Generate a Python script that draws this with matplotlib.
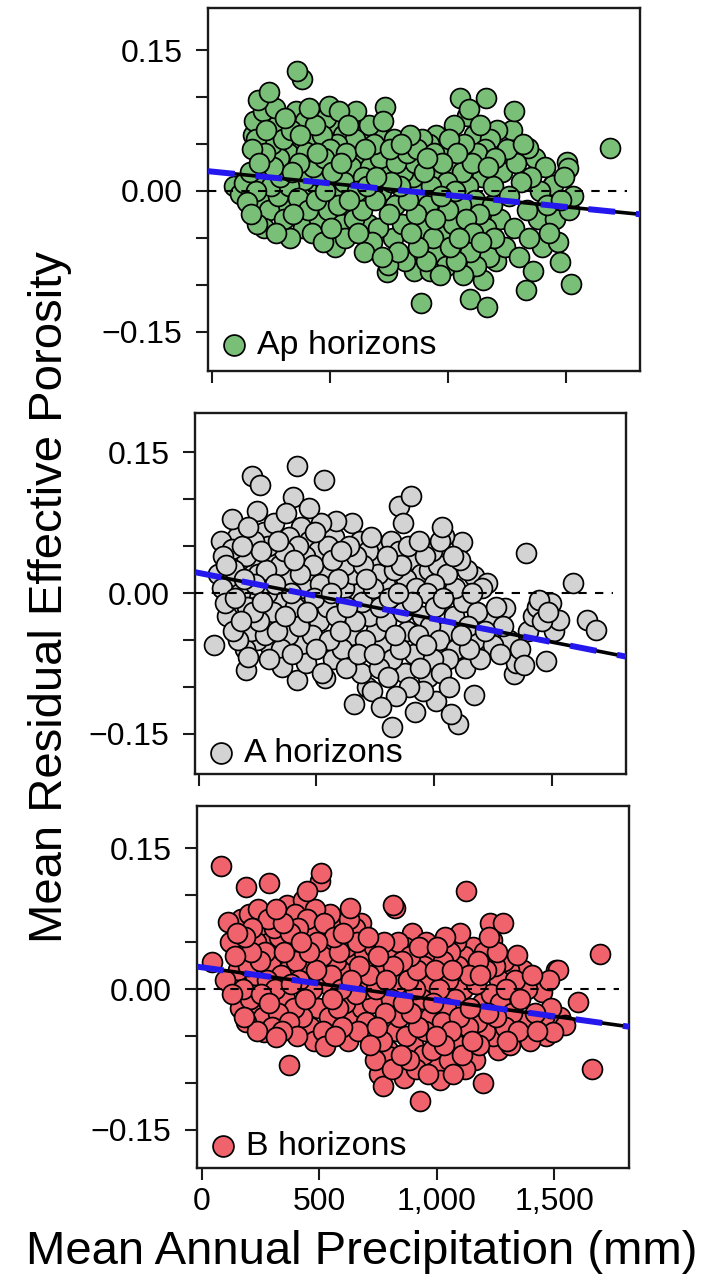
import matplotlib
matplotlib.use("Agg")
import matplotlib.pyplot as plt

plt.rcParams["font.family"] = ["Liberation Sans", "DejaVu Sans"]

# ---------------- data ----------------
ap_x = [92, 120, 135, 150, 160, 165, 170, 175, 180, 185, 188, 190, 195, 200, 205, 210, 215, 220, 225, 230,
        240, 242, 250, 255, 260, 265, 270, 275, 280, 285,
        290, 300, 305, 310, 315, 320, 325, 330, 335, 340, 345, 350, 355, 360, 365, 370, 375, 380, 385, 390,
        395, 400, 405, 410, 415, 420, 425, 430, 435, 440, 445, 450,
        455, 460, 465, 470, 475, 480, 485, 490, 495, 500, 505, 510, 515, 520, 525, 530, 535, 540, 545, 550,
        555, 560, 565, 570, 575, 580, 590, 600, 605, 610, 615, 620, 625, 630, 635, 640, 645, 650,
        655, 660, 665, 670, 680, 685, 690, 695, 700, 705, 710, 715, 720, 725, 730, 735, 740, 745, 750, 755,
        760, 765, 770, 775, 780, 790, 795, 800, 805, 810, 820, 825, 830, 840, 845, 850,
        855, 860, 865, 870, 875, 880, 885, 890, 895, 900, 905, 910, 915, 920, 925, 930, 935, 940, 945, 950,
        955, 960, 965, 970, 975, 980, 985, 990, 995, 1000, 1005, 1010, 1015, 1020, 1025, 1030, 1035, 1040,
        1045, 1050,
        1055, 1060, 1065, 1070, 1075, 1080, 1085, 1090, 1092, 1095, 1100, 1105, 1110, 1115, 1120, 1125, 1130,
        1135, 1140, 1145, 1150, 1155, 1160, 1163, 1167, 1170, 1175, 1180, 1185, 1190, 1195, 1200, 1205, 1210,
        1220, 1230, 1240, 1250,
        1260, 1270, 1278, 1280, 1290, 1300, 1310, 1320, 1330, 1335, 1340, 1345, 1350, 1360, 1370, 1380, 1390,
        1400, 1410, 1420, 1430, 1440, 1445, 1455, 1465, 1474, 1480, 1490, 1503, 1509, 1515, 1522, 1530, 1685]
ap_y = [0.005, -0.003, 0.008, -0.012, 0.02, -0.025, 0.045, 0.06, 0.075, 0.0, 0.055, -0.035, 0.097, 0.03, -0.01,
        0.015, 0.085, -0.04, 0.04, 0.065, 0.105, -0.02, 0.005, 0.05, 0.025, 0.088, -0.045, 0.07, -0.005, 0.035,
        0.015, 0.055, -0.03, 0.078, -0.015, 0.04, 0.005, -0.05, 0.065, 0.02, -0.025, 0.048, 0.085, 0.128, -0.008,
        0.03, 0.06, 0.119, -0.04, 0.012, 0.075, 0.042, -0.02, 0.088, 0.0, 0.055, -0.045, 0.025, 0.07, -0.01,
        0.04, 0.08,
        -0.03, 0.015, 0.06, -0.055, 0.035, 0.0, 0.078, -0.02, 0.09, 0.045, -0.04, 0.02, 0.065, -0.06, 0.005,
        0.05, -0.015, 0.085, 0.03, -0.035, 0.06, 0.01, -0.05, 0.04, 0.07, -0.01, 0.025, -0.03, 0.055, 0.085,
        0.0, -0.045, 0.035, 0.065, -0.02, 0.015, -0.065, 0.045,
        0.005, -0.035, 0.07, 0.025, -0.055, 0.05, -0.01, 0.015, 0.06, -0.04, 0.035, 0.0, -0.07, 0.075, 0.02,
        0.089, -0.086, -0.079, -0.025, 0.045, 0.01, -0.05, 0.055, -0.015, 0.03, -0.065, 0.005, 0.05, -0.035,
        0.02, -0.075, 0.04, -0.01, 0.06, -0.045, 0.015,
        -0.085, 0.03, -0.025, 0.045, -0.06, 0.0, -0.12, 0.055, -0.04, 0.02, -0.075, 0.035, -0.015, 0.05,
        -0.085, 0.005, -0.05, 0.04, -0.03, 0.06, -0.065, 0.015, -0.09, -0.005, 0.03, -0.045, 0.045, -0.08,
        0.01, -0.02, 0.055, -0.06, 0.025, -0.035, 0.07, 0.0, -0.075, 0.04, -0.05, 0.099,
        -0.015, 0.02, -0.09, 0.05, -0.03, 0.08, 0.005, 0.087, -0.115, -0.065, 0.03, -0.045, 0.06, -0.01, -0.08,
        0.04, -0.025, 0.07, -0.055, 0.015, -0.095, 0.045, -0.04, 0.099, -0.124, 0.025, -0.07, 0.055, -0.015,
        0.005, -0.05, 0.035, -0.075, 0.065, -0.03, 0.02, -0.06, 0.045,
        -0.005, 0.065, 0.085, -0.04, 0.03, -0.07, 0.01, 0.05, -0.106, -0.02, 0.046, -0.05, 0.015, -0.085, 0.035,
        -0.03, 0.0, -0.06, 0.025, -0.015, -0.045, 0.005, 0.006, -0.03, -0.055, -0.076, -0.01, 0.015, 0.031,
        0.024, -0.02, -0.099, -0.005, 0.046]

a_x = [63, 80, 92, 100, 102, 110, 115, 120, 130, 140, 140, 145, 150, 155, 160, 165, 170, 175, 180, 185, 190,
       195, 198, 200, 205, 208, 210, 215, 220, 225, 227, 230, 235, 240, 245, 246, 250,
       255, 261, 265, 270, 275, 280, 285, 290, 295, 300, 304, 310, 315, 320, 325, 330, 335, 340, 345, 350,
       352, 360, 365, 370, 375, 380, 385, 390, 395, 400, 405, 410, 415, 419, 420, 425, 430, 435, 440, 445, 450,
       455, 460, 467, 470, 475, 480, 485, 490, 495, 500, 505, 510, 515, 520, 525, 531, 535, 540, 545, 550,
       555, 560, 565, 570, 575, 583, 585, 590, 600, 605, 610, 615, 620, 625, 630, 640, 645, 650,
       655, 660, 665, 670, 675, 680, 685, 690, 695, 700, 705, 710, 715, 720, 725, 730, 736, 740, 745, 750,
       755, 760, 765, 770, 775, 780, 785, 790, 795, 800, 805, 810, 815, 820, 823, 830, 835, 840, 845, 850,
       852, 855, 860, 867, 870, 875, 880, 885, 890, 895, 900, 905, 910, 915, 919, 925, 930, 935, 940, 945,
       950, 955, 960, 965, 970, 975, 980, 985, 990, 995, 1000, 1005, 1010, 1015, 1020, 1025, 1030, 1035,
       1040, 1044, 1050, 1055, 1060, 1065, 1073, 1080, 1085, 1090, 1095, 1102,
       1110, 1115, 1121, 1125, 1130, 1140, 1145, 1150, 1160, 1169, 1169, 1175, 1185, 1195, 1205, 1215, 1227,
       1235, 1250, 1265, 1280, 1295, 1304, 1320, 1342, 1350, 1365, 1381, 1390, 1400, 1420, 1440, 1448, 1460,
       1477, 1485, 1496, 1510, 1534, 1592, 1650, 1688]
a_y = [-0.0555, 0.02, 0.055, 0.005, 0.039, -0.011, 0.03, -0.025, 0.012, 0.079, 0.047, -0.04, 0.025, -0.005,
       0.06, -0.05, 0.035, 0.0, -0.03, 0.05, 0.015, -0.06, -0.082, 0.04, -0.015, -0.068, 0.07, 0.005, -0.04,
       0.03, 0.125, -0.02, 0.055, 0.01, -0.05, 0.088, 0.02,
       -0.03, 0.115, 0.045, -0.01, 0.065, -0.045, 0.025, 0.0, 0.05, -0.07, -0.057, 0.035, -0.02, 0.075, 0.01,
       -0.04, 0.055, -0.005, 0.03, -0.06, -0.079, 0.045, -0.025, 0.085, 0.015, -0.045, 0.06, 0.0, -0.065,
       0.102, 0.035, -0.015, 0.135, -0.093, 0.05, -0.035, 0.02, 0.07, -0.055, 0.005, 0.04,
       -0.075, -0.02, 0.091, 0.055, 0.015, -0.045, 0.03, -0.005, 0.065, -0.06, 0.045, -0.03, 0.01, 0.075,
       -0.085, 0.121, -0.091, 0.025, -0.015, 0.05, -0.05, 0.0, 0.035, -0.07, 0.06, 0.077, -0.025, 0.015,
       -0.04, 0.045, -0.06, 0.005, 0.03, -0.08, -0.015, 0.05, -0.045, 0.075,
       0.02, -0.118, -0.03, 0.04, -0.065, 0.0, 0.055, -0.085, -0.01, 0.03, -0.05, 0.015, -0.1, 0.045, -0.025,
       0.06, -0.104, 0.005, -0.065, 0.035, -0.04, 0.02, -0.08, -0.015, -0.122, 0.05, -0.055, 0.01, -0.03,
       0.04, -0.09, -0.005, 0.055, -0.07, -0.143, 0.025, -0.045, -0.11, 0.0, 0.045,
       0.093, -0.06, 0.03, 0.075, -0.02, -0.085, 0.015, -0.04, 0.05, -0.1, 0.104, -0.01, 0.035, -0.065,
       -0.127, 0.005, -0.045, 0.055, -0.08, 0.02, -0.025, -0.105, 0.04, -0.055, 0.0, -0.09, 0.025, -0.035,
       0.045, -0.07, 0.01, -0.015, -0.115, 0.03, -0.05, 0.055, -0.085, 0.07, -0.005, 0.061, -0.04, 0.02,
       -0.07, -0.1, -0.129, 0.04, -0.025, 0.005, -0.06, -0.14,
       0.035, -0.045, 0.054, -0.01, -0.08, 0.025, -0.035, -0.06, 0.0, 0.018, -0.109, -0.05, -0.02, -0.07,
       0.005, -0.04, 0.011, -0.03, -0.055, -0.015, -0.065, -0.035, -0.016, -0.05, -0.086, -0.075, -0.06,
       -0.077, 0.043, -0.04, -0.025, -0.015, -0.007, -0.03, -0.073, -0.02, -0.011, -0.04, -0.029, 0.011,
       -0.029, -0.039]

b_x = [44, 83, 100, 111, 120, 130, 140, 150, 155, 160, 165, 170, 175, 180, 185, 188, 188, 195, 200, 205, 210,
       215, 220, 225, 230, 235, 240, 245, 250,
       255, 260, 265, 270, 275, 280, 284, 285, 290, 295, 300, 305, 310, 313, 315, 320, 325, 330, 335, 340,
       345, 350, 355, 360, 365, 370, 371, 375, 380, 385, 390, 395, 400, 405, 410, 415, 420, 425, 430, 435,
       440, 445, 448,
       455, 460, 465, 470, 475, 480, 485, 490, 495, 501, 505, 510, 515, 520, 524, 530, 535, 540, 545, 550,
       555, 560, 565, 570, 575, 580, 585, 590, 595, 600, 605, 610, 615, 620, 625, 630, 635, 640, 645, 650,
       655, 660, 665, 670, 675, 680, 690, 695, 700,
       705, 710, 715, 720, 725, 730, 735, 740, 745, 750, 755, 760, 765, 770, 775, 780, 785, 790, 793, 800,
       805, 810, 813, 815, 822, 825, 830, 835, 840, 845, 850, 855, 860, 865, 870, 875, 880, 885, 890, 895,
       900, 905, 910, 915, 920, 925, 928, 935, 940, 945,
       950, 955, 960, 965, 970, 975, 980, 985, 990, 995, 1000, 1005, 1010, 1014, 1020, 1025, 1030, 1035,
       1040, 1045, 1050, 1055, 1060, 1065, 1070, 1075, 1080, 1085, 1090, 1095, 1100, 1105, 1110, 1115, 1120,
       1124, 1130, 1135, 1140, 1149, 1155, 1160, 1165, 1170, 1175, 1180, 1185, 1190, 1197, 1200,
       1205, 1210, 1215, 1220, 1226, 1230, 1235, 1240, 1245, 1250, 1255, 1260, 1265, 1270, 1283, 1285, 1290,
       1295, 1300, 1305, 1312, 1320, 1330, 1341, 1345, 1355, 1365, 1375, 1385, 1395, 1405, 1415, 1425, 1435,
       1446, 1455, 1465, 1475, 1485, 1495, 1505, 1514, 1525, 1543, 1600, 1658, 1692]
b_y = [0.029, 0.131, 0.01, 0.072, 0.05, -0.005, 0.035, 0.06, 0.02, -0.02, 0.075, 0.045, 0.0, -0.03, 0.055,
       0.109, -0.035, 0.025, 0.08, -0.01, 0.04, 0.065, -0.025, 0.015, 0.05, -0.045, 0.085, 0.03, -0.005,
       0.06, -0.03, -0.046, 0.04, 0.01, 0.075, 0.113, -0.015, 0.05, 0.025, -0.04, 0.065, 0.0, -0.051, 0.085,
       0.035, -0.025, 0.055, 0.015, -0.045, 0.07, 0.04, -0.01, 0.09, 0.02, -0.035, -0.0805, 0.06, 0.005,
       0.045, -0.02, 0.08, 0.03, -0.05, 0.065, 0.01, 0.05, -0.03, 0.095, 0.025, -0.01, 0.075, 0.104,
       0.04, -0.04, 0.06, 0.0, -0.055, 0.085, 0.02, 0.05, -0.02, 0.115, 0.124, 0.035, -0.045, 0.07, -0.061,
       0.005, 0.045, -0.03, 0.08, 0.015, -0.01, 0.055, -0.05, 0.03, 0.07, -0.02, 0.04, 0.0, -0.04, 0.06,
       0.02, -0.015, 0.045, -0.055, 0.075, 0.086, 0.01, -0.03, 0.035, 0.065, -0.005, 0.05, -0.045, 0.025,
       0.07, -0.02, 0.04, 0.0, -0.035,
       0.055, 0.015, -0.06, 0.03, -0.015, 0.045, -0.075, 0.0, -0.04, 0.035, -0.09, 0.02, -0.055, -0.103,
       0.05, -0.025, 0.01, -0.065, -0.071, 0.04, -0.01, -0.085, 0.09, 0.025, 0.086, -0.045, 0.005, 0.05,
       -0.03, -0.07, 0.03, -0.015, -0.095, 0.045, -0.05, 0.01, -0.075, 0.035, -0.025, 0.06, -0.06, 0.0,
       -0.085, 0.02, -0.04, 0.045, -0.119, -0.01, -0.07, 0.025,
       -0.045, 0.05, -0.09, 0.005, -0.03, 0.035, -0.065, -0.015, 0.02, -0.05, 0.045, -0.08, 0.0, -0.097,
       -0.035, 0.03, -0.06, 0.055, -0.02, 0.01, -0.075, 0.04, -0.045, 0.02, -0.09, -0.01, 0.05, -0.06,
       0.025, -0.03, 0.06, -0.07, 0.0, 0.035, -0.085, 0.105, -0.04, 0.015, -0.02, -0.055, 0.045, -0.075,
       0.005, -0.035, 0.03, -0.06, 0.015, -0.015, -0.1, 0.04,
       -0.045, 0.02, -0.025, 0.055, 0.07, -0.005, 0.052, -0.05, 0.025, -0.03, 0.04, -0.065, 0.01, -0.015,
       0.07, 0.03, -0.04, 0.0, -0.055, 0.02, -0.06, -0.025, 0.01, 0.036, -0.045, -0.01, 0.02, -0.035, 0.0,
       -0.055, 0.015, -0.025, -0.045, 0.005, -0.003, -0.03, -0.05, 0.01, -0.02, -0.046, 0.02, 0.02, -0.03,
       -0.038, -0.0135, -0.0855, 0.037]

# fitted trend lines (intercept, slope per mm)
ols_intercepts = [0.0206, 0.0214, 0.0232]
ols_slopes = [-2.51e-5, -4.91e-5, -3.48e-5]
alt_intercepts = [0.0206, 0.0214, 0.0232]
alt_slopes = [-2.51e-5, -4.91e-5, -3.48e-5]

horizon_labels = ["Ap horizons", "A horizons", "B horizons"]
fill_colors = ["#7abf78", "#d3d3d3", "#f0636c"]

x_ticks = [0, 500, 1000, 1500]
x_tick_labels = ["0", "500", "1,000", "1,500"]
y_ticks = [-0.15, -0.10, -0.05, 0.0, 0.05, 0.10, 0.15]
y_tick_labels = ["\u22120.15", "", "", "0.00", "", "", "0.15"]

x_label = "Mean Annual Precipitation (mm)"
y_label = "Mean Residual Effective Porosity"

# ---------------- figure ----------------
W, H = 707, 1282
fig = plt.figure(figsize=(W / 100, H / 100), dpi=100)

rects_px = [(208, 8, 432, 363), (195, 413, 431, 361), (197, 806, 432, 362)]
xlims = [(-17, 1814), (-17, 1817), (-21, 1817)]
ylims = [(-0.192, 0.195), (-0.193, 0.192), (-0.1905, 0.195)]
zero_line_end = [1760, 1760, 1775]
legend_drop_px = [5, 10, 9]

series = [(ap_x, ap_y), (a_x, a_y), (b_x, b_y)]


def interleaved(n, step=37):
    """Deterministic drawing order so that overlapping circles do not all stack left-to-right."""
    return sorted(range(n), key=lambda k: ((k * step) % n, k))


for i, (xs, ys) in enumerate(series):
    l, t, w, h = rects_px[i]
    ax = fig.add_axes([l / W, 1 - (t + h) / H, w / W, h / H])
    ax.set_xlim(*xlims[i])
    ax.set_ylim(*ylims[i])

    order = interleaved(len(xs))
    ax.scatter([xs[k] for k in order], [ys[k] for k in order], s=205, c=fill_colors[i],
               edgecolors="black", linewidths=1.25, zorder=2, label=horizon_labels[i])

    x0, x1 = xlims[i]
    ax.plot([x0, zero_line_end[i]], [0, 0], color="black", lw=1.5,
            dashes=(4, 4), zorder=3)
    ax.plot([x0, x1],
            [ols_intercepts[i] + ols_slopes[i] * x0, ols_intercepts[i] + ols_slopes[i] * x1],
            color="black", lw=2.6, zorder=4, solid_capstyle="butt")
    ax.plot([x0, x1],
            [alt_intercepts[i] + alt_slopes[i] * x0, alt_intercepts[i] + alt_slopes[i] * x1],
            color="#2418ee", lw=4.3, dashes=(4.5, 3.5), zorder=5, dash_capstyle="butt")

    ax.set_yticks(y_ticks)
    ax.set_yticklabels(y_tick_labels)
    ax.set_xticks(x_ticks)
    if i == 2:
        ax.set_xticklabels(x_tick_labels)
    else:
        ax.set_xticklabels([])
    ax.tick_params(axis="both", direction="out", length=8.5, width=1.5,
                   color="#1a1a1a", labelsize=23)
    ax.tick_params(axis="y", pad=10)
    ax.tick_params(axis="x", pad=5)
    for sp in ax.spines.values():
        sp.set_linewidth(1.7)
        sp.set_color("#1a1a1a")

    ax.legend(loc="lower left", bbox_to_anchor=(0, -legend_drop_px[i] / h), frameon=False,
              fontsize=24.5, handlelength=0.6, handletextpad=0.4, borderaxespad=0.15,
              borderpad=0.3, markerscale=1.05)

fig.text(50 / W, 1 - 597 / H, y_label, rotation=90, ha="center", va="center", fontsize=34)
fig.text(362 / W, 1 - 1252 / H, x_label, ha="center", va="center", fontsize=34)

fig.savefig("out.png", dpi=100)
